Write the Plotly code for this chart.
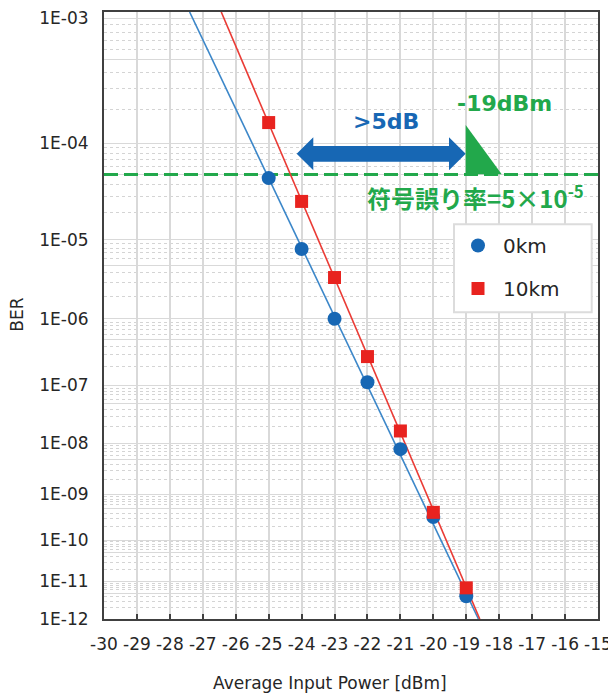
import numpy as np
import plotly.graph_objects as go

# ---------------- data ----------------
power_dbm = [-25, -24, -23, -22, -21, -20, -19]
ber_0km = [4.6e-5, 7.8e-6, 1.0e-6, 1.13e-7, 7.8e-9, 3.3e-10, 4.1e-12]
ber_10km = [1.53e-4, 2.65e-5, 3.5e-6, 2.83e-7, 1.68e-8, 4.16e-10, 6.8e-12]

# trend lines (end points)
fit_0km_power = [-27.40, -18.63]
fit_0km_ber = [1.107e-3, 1e-12]
fit_10km_power = [-26.44, -18.59]
fit_10km_ber = [1.107e-3, 1e-12]

threshold_ber = 5e-5
threshold_power = [-30, -15]

x_ticks = list(range(-30, -14))
x_tick_labels = [str(v) for v in x_ticks]
y_exponents = list(range(3, 13))
y_tick_labels = [f"1E-{n:02d}" for n in y_exponents]
axis_top_ber = 1.107e-3
axis_bottom_ber = 1e-12

series_names = ["0km", "10km"]


def q(ber):
    """BER axis is drawn on a log(-log10(BER)) scale."""
    return (-np.log10(np.asarray(ber, dtype=float))).tolist()


# ---------------- layout helpers ----------------
# the page body has an 8px margin, so the figure is 608x685 and page
# coordinates are shifted by OFF
OFF = 8
W_FIG, H_FIG = 608, 685
L, T, W, H = 104 - OFF, 12 - OFF, 494, 607


def px(x):
    return (x - OFF - L) / W


def py(y):
    return (T + H - (y - OFF)) / H


BLUE = "#1767B4"
BLUE_LINE = "#3C87C9"
RED = "#E8231F"
RED_LINE = "#EA3B35"
GREEN = "#22A84B"
GRID = "#D9D9D9"
FONT = "DejaVu Sans"

fig = go.Figure()

# threshold dashed line
fig.add_trace(go.Scatter(
    x=threshold_power, y=q([threshold_ber, threshold_ber]), mode="lines",
    line=dict(color=GREEN, width=3, dash="14px,6px"), showlegend=False,
    hoverinfo="skip"))

# trend lines
fig.add_trace(go.Scatter(x=fit_0km_power, y=q(fit_0km_ber), mode="lines",
                         line=dict(color=BLUE_LINE, width=1.6), showlegend=False))
fig.add_trace(go.Scatter(x=fit_10km_power, y=q(fit_10km_ber), mode="lines",
                         line=dict(color=RED_LINE, width=1.6), showlegend=False))

# measured points
fig.add_trace(go.Scatter(x=power_dbm, y=q(ber_0km), mode="markers",
                         name=series_names[0], legendgroup="a",
                         marker=dict(symbol="circle", size=14, color=BLUE)))
fig.add_trace(go.Scatter(x=power_dbm, y=q(ber_10km), mode="markers",
                         name=series_names[1], legendgroup="b",
                         marker=dict(symbol="square", size=13, color=RED)))

# y ticks
major_vals = [float(n) for n in y_exponents]
major_text = list(y_tick_labels)
for n in y_exponents[1:]:
    major_vals.append(n - np.log10(5))
    major_text.append("")
minor_vals = []
for n in y_exponents[1:]:
    for k in [2, 3, 4, 6, 7, 8, 9]:
        minor_vals.append(n - np.log10(k))

shapes = []
# legend box
shapes.append(dict(type="rect", xref="paper", yref="paper",
                   x0=px(454), x1=px(591.7), y0=py(312.3), y1=py(224.3),
                   fillcolor="white", line=dict(color="#DCDCDC", width=2),
                   layer="above"))


def path(points):
    s = "M " + " L ".join(f"{px(a):.5f},{py(b):.5f}" for a, b in points) + " Z"
    return s


arrow_pts = [(296.7, 153.8), (313.3, 137.3), (313.3, 146.0), (449.0, 146.0),
             (449.0, 137.3), (465.7, 153.8), (449.0, 170.3), (449.0, 161.7),
             (313.3, 161.7), (313.3, 170.3)]
shapes.append(dict(type="path", xref="paper", yref="paper", path=path(arrow_pts),
                   fillcolor=BLUE, line=dict(width=0), layer="above"))
tri_pts = [(465.7, 125.0), (465.7, 174.3), (501.7, 174.3)]
shapes.append(dict(type="path", xref="paper", yref="paper", path=path(tri_pts),
                   fillcolor=GREEN, line=dict(width=0), layer="above"))

annotations = [
    dict(text="<b>&gt;5dB</b>", x=px(386), y=py(121.7), xref="paper", yref="paper",
         showarrow=False, xanchor="center", yanchor="middle",
         font=dict(family=FONT, size=22, color=BLUE)),
    dict(text="<b>-19dBm</b>", x=px(504), y=py(104), xref="paper", yref="paper",
         showarrow=False, xanchor="center", yanchor="middle",
         font=dict(family=FONT, size=22, color=GREEN)),
    dict(text="<b>符号誤り率=5×10<sup>-5</sup></b>", x=px(475.5), y=py(197.3),
         xref="paper", yref="paper", showarrow=False, xanchor="center",
         yanchor="middle",
         font=dict(family="Noto Sans CJK JP", size=24, color=GREEN)),
    dict(text="Average Input Power [dBm]", x=px(329.5), y=py(683),
         xref="paper", yref="paper", showarrow=False, xanchor="center",
         yanchor="middle", font=dict(family=FONT, size=17, color="#262626")),
    dict(text="BER", x=px(16.7), y=py(315), xref="paper", yref="paper",
         showarrow=False, textangle=-90, xanchor="center", yanchor="middle",
         font=dict(family=FONT, size=17, color="#262626")),
]

fig.update_layout(
    width=W_FIG, height=H_FIG,
    margin=dict(l=L, r=W_FIG - L - W, t=T, b=H_FIG - T - H, pad=0,
                autoexpand=False),
    paper_bgcolor="white", plot_bgcolor="white",
    font=dict(family=FONT, size=17, color="#262626"),
    showlegend=True,
    legend=dict(x=px(453), y=py(226), xanchor="left", yanchor="top",
                bgcolor="rgba(0,0,0,0)", borderwidth=0,
                font=dict(family=FONT, size=20, color="#262626"),
                traceorder="grouped", tracegroupgap=14, itemwidth=40),
    shapes=shapes, annotations=annotations,
)

fig.update_xaxes(
    range=[-30, -15], tickmode="array", tickvals=x_ticks, ticktext=x_tick_labels,
    showgrid=True, gridcolor=GRID, gridwidth=1.5, automargin=False,
    showline=True, linecolor="#404040", linewidth=2, mirror=True,
    ticks="inside", ticklen=5, tickwidth=1.5, tickcolor="#404040",
    ticklabelstandoff=9, zeroline=False,
    tickfont=dict(family=FONT, size=17, color="#262626"),
)

fig.update_yaxes(
    type="log", automargin=False,
    range=[np.log10(q([axis_bottom_ber])[0]), np.log10(q([axis_top_ber])[0])],
    tickmode="array", tickvals=major_vals, ticktext=major_text,
    showgrid=True, gridcolor=GRID, gridwidth=1.3,
    showline=True, linecolor="#404040", linewidth=2, mirror=True,
    ticks="", ticklabelstandoff=10, zeroline=False,
    tickfont=dict(family=FONT, size=17, color="#262626"),
    minor=dict(tickmode="array", tickvals=minor_vals, showgrid=True,
               gridcolor="#D4D4D4", griddash="dot", gridwidth=1, ticks=""),
)

fig.write_html("out.html")
